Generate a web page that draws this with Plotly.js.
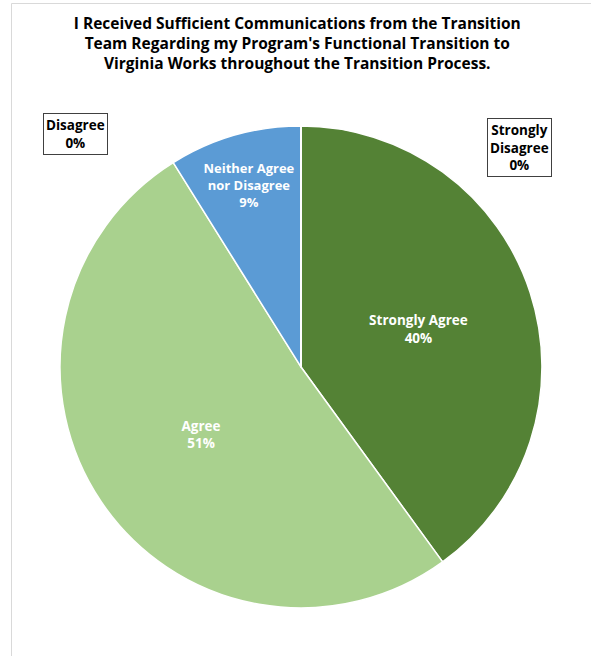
<!DOCTYPE html>
<html><head><meta charset="utf-8">
<script src="https://cdn.plot.ly/plotly-3.0.1.min.js"></script>
<style>html,body{margin:0;padding:0;background:#fff}#chart{width:591px;height:656px}</style>
</head><body><div id="chart"></div>
<script>
const categories = ["Strongly Agree", "Agree", "Neither Agree nor Disagree", "Disagree", "Strongly Disagree"];
const displayLabels = ["Strongly Agree", "Agree", "Neither Agree<br>nor Disagree", "Disagree", "Strongly<br>Disagree"];
const values = [18, 23, 4, 0, 0];
const colors = ["#548235", "#A9D18E", "#5B9BD5", "#ED7D31", "#A5A5A5"];
const titleText = "I Received Sufficient Communications from the Transition<br>Team Regarding my Program's Functional Transition to<br>Virginia Works throughout the Transition Process.";

const total = values.reduce((a, b) => a + b, 0);
const font = "Open Sans, Noto Sans, sans-serif";

const trace = {
  type: "pie",
  labels: categories,
  values: values,
  customdata: displayLabels,
  sort: false,
  direction: "clockwise",
  rotation: 0,
  marker: {colors: colors, line: {color: "#ffffff", width: 1.5}},
  texttemplate: "<b>%{customdata}<br>%{percent:.0%}</b>",
  textposition: "inside",
  insidetextorientation: "horizontal",
  textfont: {family: font, size: 13.5, color: "#ffffff"},
  hoverinfo: "label+percent",
  showlegend: false,
  domain: {x: [0.1015, 0.917], y: [0.0732, 0.808]}
};

// boxed labels for zero-value slices
const boxPos = {"Disagree": {x: 75/591, y: 1 - 133.5/656}, "Strongly Disagree": {x: 519.5/591, y: 1 - 147/656}};
const annotations = [];
categories.forEach((c, i) => {
  if (values[i] === 0 && boxPos[c]) {
    annotations.push({
      xref: "paper", yref: "paper", x: boxPos[c].x, y: boxPos[c].y,
      xanchor: "center", yanchor: "middle", showarrow: false,
      text: "<b>" + displayLabels[i] + "<br>" + Math.round(100 * values[i] / total) + "%</b>",
      font: {family: font, size: 13.5, color: "#000000"},
      bordercolor: "#404040", borderwidth: 1, borderpad: 2, bgcolor: "#ffffff"
    });
  }
});

const layout = {
  width: 591, height: 656,
  margin: {l: 0, r: 0, t: 0, b: 0},
  paper_bgcolor: "#ffffff",
  title: {text: "<b>" + titleText + "</b>", font: {family: font, size: 15.5, color: "#000000"},
          x: 0.503, xanchor: "center", y: 1 - 29/656, yanchor: "middle"},
  annotations: annotations,
  shapes: [
    {type: "line", xref: "paper", yref: "paper", x0: 11.5/591, x1: 1, y0: 1 - 3.5/656, y1: 1 - 3.5/656, line: {color: "#d9d9d9", width: 1}},
    {type: "line", xref: "paper", yref: "paper", x0: 11.5/591, x1: 11.5/591, y0: 0, y1: 1 - 3.5/656, line: {color: "#d9d9d9", width: 1}}
  ]
};

Plotly.newPlot("chart", [trace], layout, {displayModeBar: false, staticPlot: true});
</script></body></html>
